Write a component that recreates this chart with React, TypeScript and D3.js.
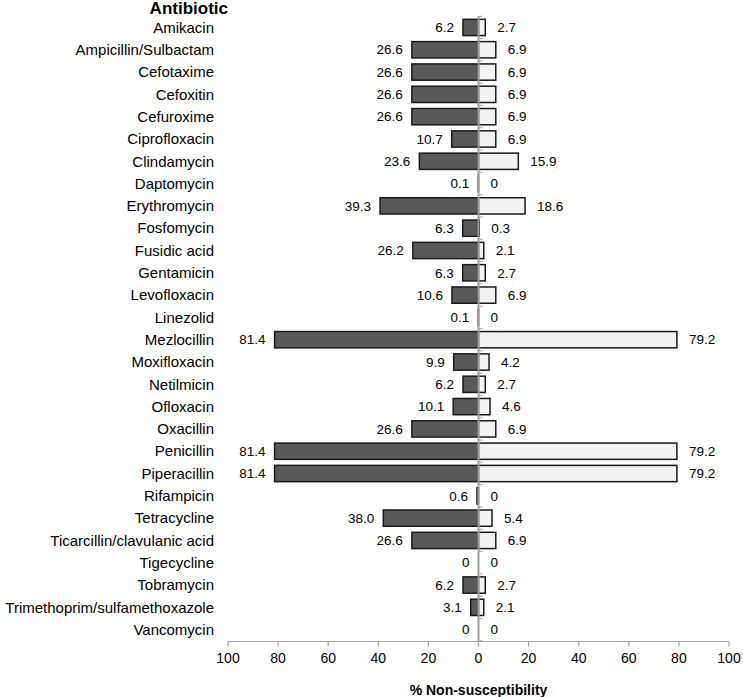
import React from "react";
import * as d3 from "d3";

const categories = [
  "Amikacin","Ampicillin/Sulbactam","Cefotaxime","Cefoxitin","Cefuroxime","Ciprofloxacin",
  "Clindamycin","Daptomycin","Erythromycin","Fosfomycin","Fusidic acid","Gentamicin",
  "Levofloxacin","Linezolid","Mezlocillin","Moxifloxacin","Netilmicin","Ofloxacin",
  "Oxacillin","Penicillin","Piperacillin","Rifampicin","Tetracycline",
  "Ticarcillin/clavulanic acid","Tigecycline","Tobramycin","Trimethoprim/sulfamethoxazole","Vancomycin",
];
const leftValues = [6.2,26.6,26.6,26.6,26.6,10.7,23.6,0.1,39.3,6.3,26.2,6.3,10.6,0.1,81.4,9.9,6.2,10.1,26.6,81.4,81.4,0.6,38.0,26.6,0,6.2,3.1,0];
const rightValues = [2.7,6.9,6.9,6.9,6.9,6.9,15.9,0,18.6,0.3,2.1,2.7,6.9,0,79.2,4.2,2.7,4.6,6.9,79.2,79.2,0,5.4,6.9,0,2.7,2.1,0];
const tickValues = [-100,-80,-60,-40,-20,0,20,40,60,80,100];

const W = 743, H = 697;
const FONT = "Liberation Sans, Arial, sans-serif";

export default function App() {
  const x = d3.scaleLinear().domain([-100, 100]).range([228, 729]);
  const y = d3.scaleBand<string>().domain(categories).range([16.3, 640.8]).paddingInner(0.27).paddingOuter(0.135);
  const fmt = (v: number) => (v === 0 ? "0" : v.toFixed(1));
  const x0 = x(0);
  const axisY = 641.5;
  const boundaries = categories.map((c) => (y(c) as number) - (y.step() - y.bandwidth()) / 2);
  boundaries.push(640.8);

  return (
    <svg width={W} height={H} style={{ position: "absolute", left: 0, top: 0, background: "#fff" }} fontFamily={FONT}>
      <text x={228} y={14} textAnchor="end" fontWeight="bold" fontSize={17}>Antibiotic</text>
      {categories.map((c, i) => {
        const yy = y(c) as number;
        const bw = y.bandwidth();
        const cy = yy + bw / 2;
        const lv = leftValues[i], rv = rightValues[i];
        return (
          <g key={c}>
            <text x={214} y={cy} dy="0.35em" textAnchor="end" fontSize={15}>{c}</text>
            <rect x={x(-lv)} y={yy} width={x0 - x(-lv)} height={bw} fill="#595959" stroke="#1a1a1a" strokeWidth={1.5} />
            <rect x={x0} y={yy} width={x(rv) - x0} height={bw} fill="#f2f2f2" stroke="#1a1a1a" strokeWidth={1.5} />
            <text x={x(-lv) - 9} y={cy} dy="0.35em" textAnchor="end" fontSize={13.5}>{fmt(lv)}</text>
            <text x={x(rv) + 12} y={cy} dy="0.35em" textAnchor="start" fontSize={13.5}>{fmt(rv)}</text>
          </g>
        );
      })}
      <line x1={x0} x2={x0} y1={16} y2={axisY} stroke="#a0a0a0" strokeWidth={2} />
      {boundaries.map((b, i) => (
        <line key={i} x1={x0} x2={x0 + 4} y1={b} y2={b} stroke="#a0a0a0" strokeWidth={1} />
      ))}
      <line x1={x(-100)} x2={x(100)} y1={axisY} y2={axisY} stroke="#a6a6a6" strokeWidth={1.2} />
      {tickValues.map((t) => (
        <g key={t}>
          <line x1={x(t)} x2={x(t)} y1={axisY} y2={axisY + 5} stroke="#a6a6a6" strokeWidth={1.2} />
          <text x={x(t)} y={658} dy="0.35em" textAnchor="middle" fontSize={14}>{Math.abs(t)}</text>
        </g>
      ))}
      <text x={x0} y={690} dy="0.35em" textAnchor="middle" fontWeight="bold" fontSize={14}>% Non-susceptibility</text>
    </svg>
  );
}
